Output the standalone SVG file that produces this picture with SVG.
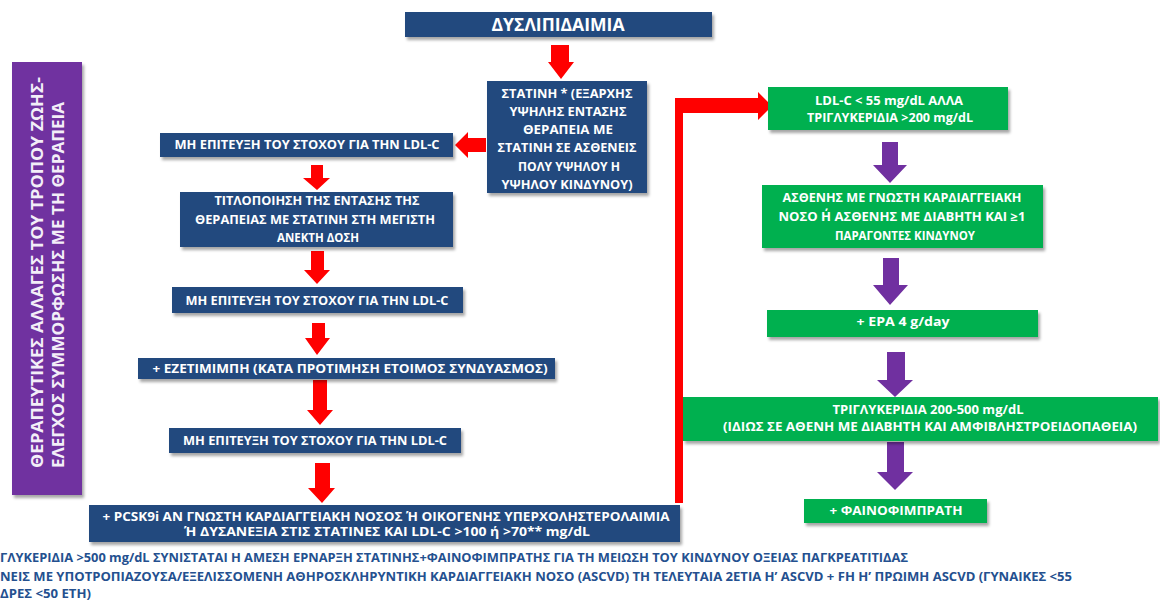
<svg xmlns="http://www.w3.org/2000/svg" width="1160" height="603" viewBox="0 0 1160 603">
<defs>
<filter id="sh" x="-10%" y="-20%" width="120%" height="150%">
<feDropShadow dx="2" dy="3" stdDeviation="1.8" flood-color="#000" flood-opacity="0.35"/>
</filter>
<style>
.blue{fill:#21497E;filter:url(#sh)}
.green{fill:#00B050;filter:url(#sh)}
.purple{fill:#7030A0;filter:url(#sh)}
.t{font-family:"Open Sans","Noto Sans","DejaVu Sans",sans-serif;font-weight:bold;font-size:12px;fill:#fff;text-anchor:middle}
.ttl{font-size:18px}
.vt{font-family:"Open Sans","Noto Sans","DejaVu Sans",sans-serif;font-weight:bold;font-size:16px;fill:#F3EEF8}
.note{font-family:"Open Sans","Noto Sans","DejaVu Sans",sans-serif;font-weight:bold;font-size:12px;fill:#24508F}
.ra{fill:#FF0000}
.pa{fill:#7030A0}
</style>
</defs>
<rect width="1160" height="603" fill="#fff"/>

<g id="connectors">
<polygon class="ra" points="551,45 569,45 569,62 574,62 561,79 548,62 551,62"/>
<polygon class="ra" points="486,138 468,138 468,132 455,145 468,158 468,152 486,152"/>
<polygon class="ra" points="311,165 323,165 323,178 330,178 317,190 303,178 311,178"/>
<polygon class="ra" points="311,251 324,251 324,270 330,270 317,284 304,270 311,270"/>
<polygon class="ra" points="312,323 325,323 325,338 330,338 317,355 305,338 312,338"/>
<polygon class="ra" points="313,380 327,380 327,410 333,410 320,425 307,410 313,410"/>
<polygon class="ra" points="315,463 330,463 330,488 335,488 322,503 308,488 315,488"/>
<polygon class="ra" points="675,503 675,98 758,98 758,92 772,106 758,120 758,113 683,113 683,503"/>
<polygon class="pa" points="882,142 898,142 898,165 907,165 890,183 873,165 882,165"/>
<polygon class="pa" points="883,258 899,258 899,285 908,285 890,305 873,285 883,285"/>
<polygon class="pa" points="887,352 905,352 905,380 913,380 895,397 877,380 887,380"/>
<polygon class="pa" points="887,442 904,442 904,472 913,472 895,490 877,472 887,472"/>
</g>

<g id="n-title">
<rect class="blue" x="405" y="12" width="307" height="25"/>
<text class="t ttl" x="558" y="30.5" textLength="133" lengthAdjust="spacingAndGlyphs">ΔΥΣΛΙΠΙΔΑΙΜΙΑ</text>
</g>

<g id="n-statin">
<rect class="blue" x="487" y="81" width="160" height="112"/>
<text class="t" x="567" y="98.3" textLength="131" lengthAdjust="spacingAndGlyphs">ΣΤΑΤΙΝΗ * (ΕΞΑΡΧΗΣ</text>
<text class="t" x="568" y="116.3" textLength="117" lengthAdjust="spacingAndGlyphs">ΥΨΗΛΗΣ ΕΝΤΑΣΗΣ</text>
<text class="t" x="568" y="134.3" textLength="90" lengthAdjust="spacingAndGlyphs">ΘΕΡΑΠΕΙΑ ΜΕ</text>
<text class="t" x="567" y="152.3" textLength="139" lengthAdjust="spacingAndGlyphs">ΣΤΑΤΙΝΗ ΣΕ ΑΣΘΕΝΕΙΣ</text>
<text class="t" x="569" y="171.3" textLength="102" lengthAdjust="spacingAndGlyphs">ΠΟΛΥ ΥΨΗΛΟΥ Η</text>
<text class="t" x="567" y="189.3" textLength="131" lengthAdjust="spacingAndGlyphs">ΥΨΗΛΟΥ ΚΙΝΔΥΝΟΥ)</text>
</g>

<g id="n-fail1">
<rect class="blue" x="160" y="133" width="293" height="24"/>
<text class="t" x="307" y="149.3" textLength="265" lengthAdjust="spacingAndGlyphs">ΜΗ ΕΠΙΤΕΥΞΗ ΤΟΥ ΣΤΟΧΟΥ ΓΙΑ ΤΗΝ LDL-C</text>
</g>

<g id="n-titration">
<rect class="blue" x="180" y="192" width="273" height="55"/>
<text class="t" x="317" y="205.3" textLength="205" lengthAdjust="spacingAndGlyphs">ΤΙΤΛΟΠΟΙΗΣΗ ΤΗΣ ΕΝΤΑΣΗΣ ΤΗΣ</text>
<text class="t" x="315" y="224.3" textLength="240" lengthAdjust="spacingAndGlyphs">ΘΕΡΑΠΕΙΑΣ ΜΕ ΣΤΑΤΙΝΗ ΣΤΗ ΜΕΓΙΣΤΗ</text>
<text class="t" x="318" y="242.3" textLength="82" lengthAdjust="spacingAndGlyphs">ΑΝΕΚΤΗ ΔΟΣΗ</text>
</g>

<g id="n-fail2">
<rect class="blue" x="172" y="287" width="291" height="26"/>
<text class="t" x="317" y="305.3" textLength="263" lengthAdjust="spacingAndGlyphs">ΜΗ ΕΠΙΤΕΥΞΗ ΤΟΥ ΣΤΟΧΟΥ ΓΙΑ ΤΗΝ LDL-C</text>
</g>

<g id="n-ezetimibe">
<rect class="blue" x="138" y="358" width="417" height="21"/>
<text class="t" x="350" y="373.3" textLength="395" lengthAdjust="spacingAndGlyphs">+ ΕΖΕΤΙΜΙΜΠΗ (ΚΑΤΑ ΠΡΟΤΙΜΗΣΗ ΕΤΟΙΜΟΣ ΣΥΝΔΥΑΣΜΟΣ)</text>
</g>

<g id="n-fail3">
<rect class="blue" x="169" y="428" width="292" height="25"/>
<text class="t" x="315" y="445.3" textLength="264" lengthAdjust="spacingAndGlyphs">ΜΗ ΕΠΙΤΕΥΞΗ ΤΟΥ ΣΤΟΧΟΥ ΓΙΑ ΤΗΝ LDL-C</text>
</g>

<g id="n-pcsk9">
<rect class="blue" x="89" y="505" width="591" height="37"/>
<text class="t" x="386" y="521" textLength="567" lengthAdjust="spacingAndGlyphs">+ PCSK9i ΑΝ ΓΝΩΣΤΗ ΚΑΡΔΙΑΓΓΕΙΑΚΗ ΝΟΣΟΣ Ή ΟΙΚΟΓΕΝΗΣ ΥΠΕΡΧΟΛΗΣΤΕΡΟΛΑΙΜΙΑ</text>
<text class="t" x="387" y="536.3" textLength="406" lengthAdjust="spacingAndGlyphs">Ή ΔΥΣΑΝΕΞΙΑ ΣΤΙΣ ΣΤΑΤΙΝΕΣ ΚΑΙ LDL-C &gt;100 ή &gt;70** mg/dL</text>
</g>

<g id="n-ldl55">
<rect class="green" x="768" y="87" width="240" height="43"/>
<text class="t" x="889" y="105.3" textLength="148" lengthAdjust="spacingAndGlyphs">LDL-C &lt; 55 mg/dL ΑΛΛΑ</text>
<text class="t" x="890" y="122.3" textLength="166" lengthAdjust="spacingAndGlyphs">ΤΡΙΓΛΥΚΕΡΙΔΙΑ &gt;200 mg/dL</text>
</g>

<g id="n-patient">
<rect class="green" x="762" y="185" width="281" height="63"/>
<text class="t" x="902" y="202.3" textLength="239" lengthAdjust="spacingAndGlyphs">ΑΣΘΕΝΗΣ ΜΕ ΓΝΩΣΤΗ ΚΑΡΔΙΑΓΓΕΙΑΚΗ</text>
<text class="t" x="902" y="221.3" textLength="247" lengthAdjust="spacingAndGlyphs">ΝΟΣΟ Η΄ ΑΣΘΕΝΗΣ ΜΕ ΔΙΑΒΗΤΗ ΚΑΙ ≥1</text>
<text class="t" x="905" y="240.3" textLength="140" lengthAdjust="spacingAndGlyphs">ΠΑΡΑΓΟΝΤΕΣ ΚΙΝΔΥΝΟΥ</text>
</g>

<g id="n-epa">
<rect class="green" x="767" y="310" width="271" height="27"/>
<text class="t" x="903" y="326.3" textLength="93" lengthAdjust="spacingAndGlyphs">+ ΕΡΑ 4 g/day</text>
</g>

<g id="n-tg">
<rect class="green" x="683" y="397" width="475" height="44"/>
<text class="t" x="928" y="414.3" textLength="191" lengthAdjust="spacingAndGlyphs">ΤΡΙΓΛΥΚΕΡΙΔΙΑ 200-500 mg/dL</text>
<text class="t" x="930" y="431.3" textLength="414" lengthAdjust="spacingAndGlyphs">(ΙΔΙΩΣ ΣΕ ΑΘΕΝΗ ΜΕ ΔΙΑΒΗΤΗ ΚΑΙ ΑΜΦΙΒΛΗΣΤΡΟΕΙΔΟΠΑΘΕΙΑ)</text>
</g>

<g id="n-fenofibrate">
<rect class="green" x="804" y="499" width="183" height="24"/>
<text class="t" x="896" y="515.3" textLength="133" lengthAdjust="spacingAndGlyphs">+ ΦΑΙΝΟΦΙΜΠΡΑΤΗ</text>
</g>

<g id="n-lifestyle">
<rect class="purple" x="12" y="62" width="70" height="433"/>
<text class="vt" transform="translate(43,468) rotate(-90)" textLength="391" lengthAdjust="spacingAndGlyphs">ΘΕΡΑΠΕΥΤΙΚΕΣ ΑΛΛΑΓΕΣ ΤΟΥ ΤΡΟΠΟΥ ΖΩΗΣ-</text>
<text class="vt" transform="translate(64,468) rotate(-90)" textLength="366" lengthAdjust="spacingAndGlyphs">ΕΛΕΓΧΟΣ ΣΥΜΜΟΡΦΩΣΗΣ ΜΕ ΤΗ ΘΕΡΑΠΕΙΑ</text>
</g>

<g id="notes">
<text class="note" x="0" y="562" textLength="908" lengthAdjust="spacingAndGlyphs">ΓΛΥΚΕΡΙΔΙΑ &gt;500 mg/dL ΣΥΝΙΣΤΑΤΑΙ Η ΑΜΕΣΗ ΕΡΝΑΡΞΗ ΣΤΑΤΙΝΗΣ+ΦΑΙΝΟΦΙΜΠΡΑΤΗΣ ΓΙΑ ΤΗ ΜΕΙΩΣΗ ΤΟΥ ΚΙΝΔΥΝΟΥ ΟΞΕΙΑΣ ΠΑΓΚΡΕΑΤΙΤΙΔΑΣ</text>
<text class="note" x="0" y="581" textLength="1072" lengthAdjust="spacingAndGlyphs">ΝΕΙΣ ΜΕ ΥΠΟΤΡΟΠΙΑΖΟΥΣΑ/ΕΞΕΛΙΣΣΟΜΕΝΗ ΑΘΗΡΟΣΚΛΗΡΥΝΤΙΚΗ ΚΑΡΔΙΑΓΓΕΙΑΚΗ ΝΟΣΟ (ASCVD) ΤΗ ΤΕΛΕΥΤΑΙΑ 2ΕΤΙΑ Η’ ASCVD + FH Η’ ΠΡΩΙΜΗ ASCVD (ΓΥΝΑΙΚΕΣ &lt;55</text>
<text class="note" x="0" y="598" textLength="91" lengthAdjust="spacingAndGlyphs">ΔΡΕΣ &lt;50 ΕΤΗ)</text>
</g>
</svg>
